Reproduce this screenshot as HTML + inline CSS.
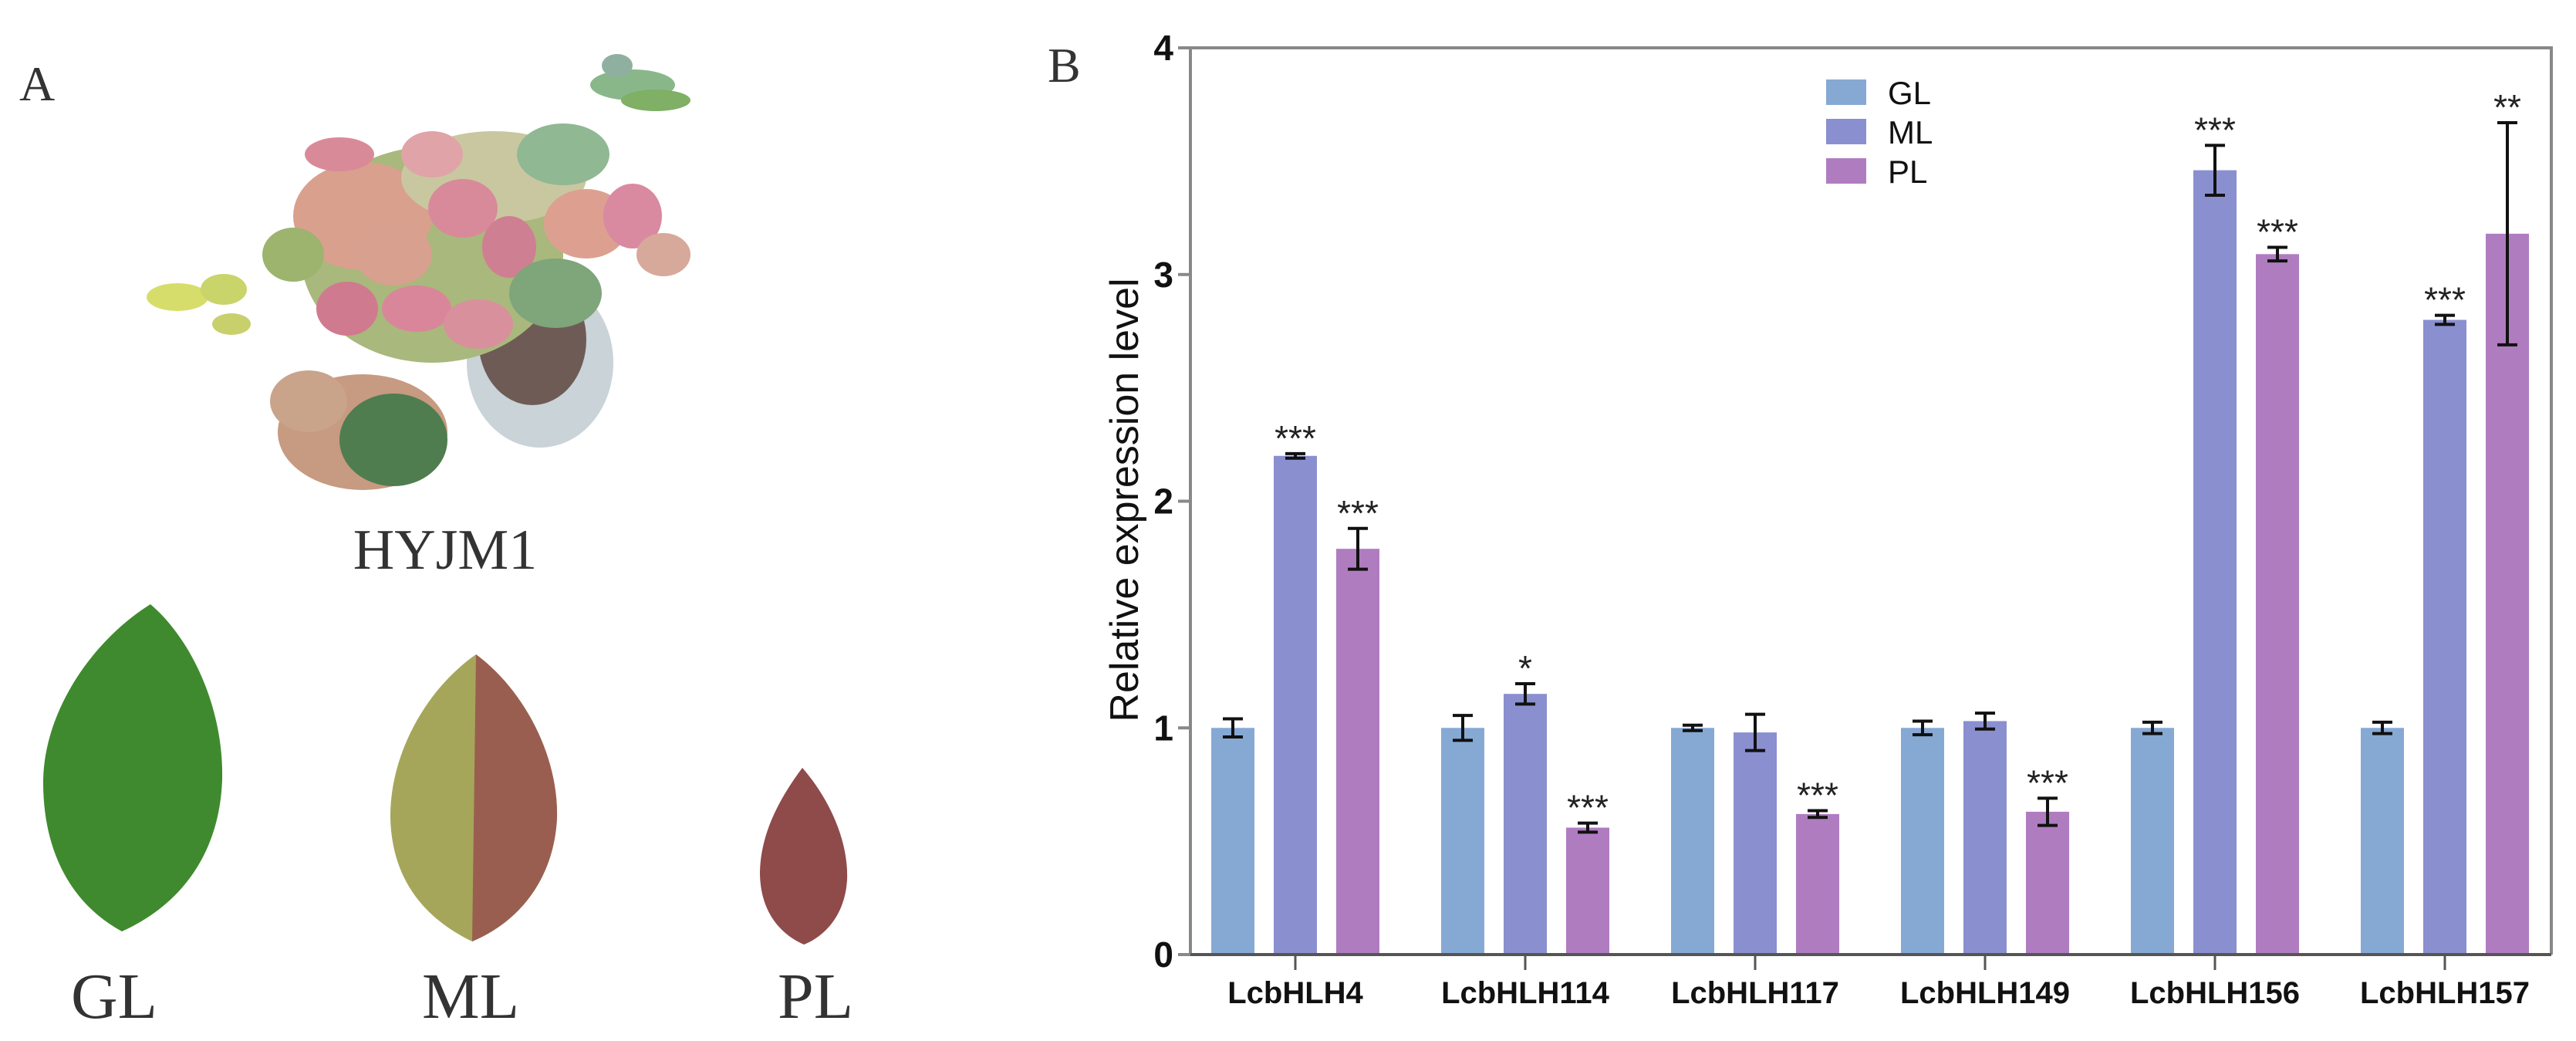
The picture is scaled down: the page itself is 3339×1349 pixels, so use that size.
<!DOCTYPE html>
<html><head><meta charset="utf-8"><style>
html,body{margin:0;padding:0;background:#fff;}
svg{display:block;}
</style></head><body>
<svg id="fig" width="3339" height="1349" viewBox="0 0 3339 1349" xmlns="http://www.w3.org/2000/svg">
  <g>
    <text x="25" y="130" font-family="Liberation Serif, serif" font-size="64" fill="#333">A</text>
    <g>
      <ellipse cx="700" cy="470" rx="95" ry="110" fill="#c9d3d8"/>
      <ellipse cx="690" cy="440" rx="70" ry="85" fill="#6f5b55"/>
      <ellipse cx="230" cy="385" rx="40" ry="18" fill="#d7dd6a"/>
      <ellipse cx="290" cy="375" rx="30" ry="20" fill="#c9d46a"/>
      <ellipse cx="300" cy="420" rx="25" ry="14" fill="#c8d06b"/>
      <ellipse cx="820" cy="110" rx="55" ry="20" fill="#8ab78a"/>
      <ellipse cx="850" cy="130" rx="45" ry="14" fill="#7fb065"/>
      <ellipse cx="800" cy="85" rx="20" ry="15" fill="#8fb0a0"/>
      <ellipse cx="470" cy="560" rx="110" ry="75" fill="#c79a82"/>
      <ellipse cx="510" cy="570" rx="70" ry="60" fill="#4f7d4f"/>
      <ellipse cx="400" cy="520" rx="50" ry="40" fill="#c9a38a"/>
      <ellipse cx="560" cy="330" rx="170" ry="140" fill="#a9b87c"/>
      <ellipse cx="470" cy="280" rx="90" ry="70" fill="#d9a08e"/>
      <ellipse cx="640" cy="230" rx="120" ry="60" fill="#c9c7a0"/>
      <ellipse cx="440" cy="200" rx="45" ry="22" fill="#d98a98"/>
      <ellipse cx="560" cy="200" rx="40" ry="30" fill="#e0a3a8"/>
      <ellipse cx="600" cy="270" rx="45" ry="38" fill="#d88a9a"/>
      <ellipse cx="760" cy="290" rx="55" ry="45" fill="#dda090"/>
      <ellipse cx="820" cy="280" rx="38" ry="42" fill="#d98aa0"/>
      <ellipse cx="510" cy="330" rx="50" ry="40" fill="#d8a08e"/>
      <ellipse cx="450" cy="400" rx="40" ry="35" fill="#d07a90"/>
      <ellipse cx="540" cy="400" rx="45" ry="30" fill="#d9869a"/>
      <ellipse cx="620" cy="420" rx="45" ry="32" fill="#d8909c"/>
      <ellipse cx="660" cy="320" rx="35" ry="40" fill="#cf7f92"/>
      <ellipse cx="720" cy="380" rx="60" ry="45" fill="#7fa57a"/>
      <ellipse cx="380" cy="330" rx="40" ry="35" fill="#9cb46e"/>
      <ellipse cx="730" cy="200" rx="60" ry="40" fill="#8fb893"/>
      <ellipse cx="860" cy="330" rx="35" ry="28" fill="#d6a99a"/>
    </g>
    <text x="577" y="737" text-anchor="middle" font-family="Liberation Serif, serif" font-size="74" fill="#333">HYJM1</text>
    <path d="M195 783 C250 830 290 920 288 1010 C285 1100 240 1170 158 1207 C90 1170 55 1100 56 1010 C58 920 120 830 195 783 Z" fill="#3f8a2e"/>
    <path d="M617 848 C680 895 724 980 722 1060 C718 1140 672 1195 612 1220 C550 1190 508 1140 506 1060 C505 980 550 895 617 848 Z" fill="#a6a65a"/>
    <path d="M617 848 C680 895 724 980 722 1060 C718 1140 672 1195 612 1220 Z" fill="#9a5e50"/>
    <path d="M1040 995 C1075 1035 1100 1090 1098 1140 C1095 1190 1065 1215 1042 1224 C1010 1210 985 1180 985 1130 C986 1080 1010 1035 1040 995 Z" fill="#8f4a4a"/>
    <text x="148" y="1319" text-anchor="middle" font-family="Liberation Serif, serif" font-size="84" fill="#333">GL</text>
    <text x="610" y="1319" text-anchor="middle" font-family="Liberation Serif, serif" font-size="84" fill="#333">ML</text>
    <text x="1057" y="1319" text-anchor="middle" font-family="Liberation Serif, serif" font-size="84" fill="#333">PL</text>
  </g>
  <text x="1358" y="106" font-family="Liberation Serif, serif" font-size="64" fill="#333">B</text>
  <g id="chart"></g>
</svg>
<script>
const categories = ["LcbHLH4","LcbHLH114","LcbHLH117","LcbHLH149","LcbHLH156","LcbHLH157"];
const seriesNames = ["GL","ML","PL"];
const glValues = [1,1,1,1,1,1];
const glErrors = [0.04,0.055,0.012,0.03,0.025,0.025];
const mlValues = [2.2,1.15,0.98,1.03,3.46,2.8];
const mlErrors = [0.01,0.045,0.08,0.035,0.11,0.02];
const plValues = [1.79,0.56,0.62,0.63,3.09,3.18];
const plErrors = [0.09,0.02,0.015,0.06,0.03,0.49];
const mlSig = ["***","*","","","***","***"];
const plSig = ["***","***","***","***","***","**"];
const yTicks = [0,1,2,3,4];

const NS="http://www.w3.org/2000/svg";
const g=document.getElementById('chart');
const X0=1543, X1=3307, Y0=1237, Ytop=62, yMax=4;
const y=v=>Y0-(v/yMax)*(Y0-Ytop);
const cx=i=>1679+i*298;
const offs=[-81,0,81], bw=56;
const colors=["#86a9d4","#8a8fcf","#b07cc0"];
function mk(tag,attrs,parent){const e=document.createElementNS(NS,tag);for(const k in attrs)e.setAttribute(k,attrs[k]);(parent||g).appendChild(e);return e;}

const series=[[glValues,glErrors,null],[mlValues,mlErrors,mlSig],[plValues,plErrors,plSig]];
series.forEach((s,si)=>{
  s[0].forEach((v,i)=>{
    const x=cx(i)+offs[si];
    const r=mk('rect',{x:x-bw/2,y:y(v),width:bw,height:Y0-y(v),fill:colors[si]});
    
    
    const e=s[1][i], t=y(v+e), b=y(v-e);
    const eb=mk('path',{d:`M${x} ${t}V${b}M${x-13} ${t}H${x+13}M${x-13} ${b}H${x+13}`,stroke:"#111","stroke-width":4,fill:"none"});
    
    
    if(s[2]&&s[2][i]){
      const tx=mk('text',{x:x,y:t-4,"text-anchor":"middle","font-family":"Liberation Sans, sans-serif","font-size":46,fill:"#222"});
      tx.textContent=s[2][i];
      
      
    }
  });
});
const fr=mk('path',{d:`M${X0} ${Ytop}H${X1}V${Y0}`,stroke:"#888","stroke-width":4,fill:"none"});


const ya=mk('path',{d:`M${X0} ${Ytop}V${Y0}`,stroke:"#888","stroke-width":4,fill:"none"});


const xa=mk('path',{d:`M${X0-12} ${Y0}H${X1}`,stroke:"#555","stroke-width":4,fill:"none"});


yTicks.forEach(t=>{
  const tk=mk('path',{d:`M${X0-16} ${y(t)}H${X0}`,stroke:"#888","stroke-width":4});
  
  
  const lb=mk('text',{x:X0-22,y:y(t)+16,"text-anchor":"end","font-family":"Liberation Sans, sans-serif","font-size":46,"font-weight":"bold",fill:"#111"});
  lb.textContent=t;
  
  
});
categories.forEach((c,i)=>{
  const tk=mk('path',{d:`M${cx(i)} ${Y0}V${Y0+20}`,stroke:"#555","stroke-width":3});
  
  
  const lb=mk('text',{x:cx(i),y:1300,"text-anchor":"middle","font-family":"Liberation Sans, sans-serif","font-size":40,"font-weight":"bold",fill:"#111"});
  lb.textContent=c;
  
  
});
const yt=mk('text',{x:0,y:0,transform:"translate(1475,648) rotate(-90)","text-anchor":"middle","font-family":"Liberation Sans, sans-serif","font-size":52,fill:"#111"});
yt.textContent="Relative expression level";


seriesNames.forEach((n,si)=>{
  const top=103+si*51;
  const sw=mk('rect',{x:2367,y:top,width:52,height:33,fill:colors[si]});
  
  
  const lt=mk('text',{x:2447,y:top+32,"font-family":"Liberation Sans, sans-serif","font-size":42,fill:"#111"});
  lt.textContent=n;
  
  
});
</script>
</body></html>
